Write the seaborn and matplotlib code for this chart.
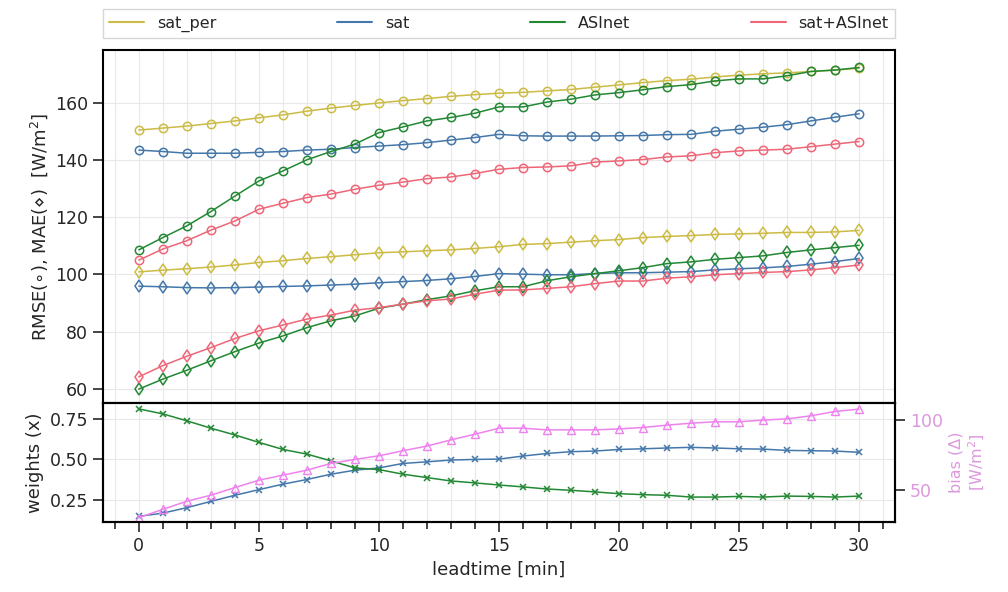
import numpy as np
import pandas as pd
import matplotlib
matplotlib.use("Agg")
import matplotlib.pyplot as plt
import seaborn as sns
from matplotlib.ticker import MultipleLocator

leadtime = list(range(31))
models = ["sat_per", "sat", "ASInet", "sat+ASInet"]
colors = {"sat_per": "#CCBB44", "sat": "#4477AA", "ASInet": "#228833", "sat+ASInet": "#EE6677"}

rmse = {
    "sat_per": [150.5, 151.2, 151.9, 152.8, 153.7, 154.8, 155.8, 157.1, 158.2, 159.1, 160.0,
                160.8, 161.5, 162.3, 162.9, 163.4, 163.7, 164.2, 164.7, 165.5, 166.3, 167.1,
                167.8, 168.3, 169.1, 169.7, 170.2, 170.5, 171.0, 171.5, 172.1],
    "sat": [143.5, 143.0, 142.4, 142.4, 142.4, 142.7, 143.0, 143.5, 143.8, 144.4, 144.9,
            145.4, 146.1, 147.0, 147.9, 149.0, 148.5, 148.4, 148.4, 148.4, 148.5, 148.6,
            148.9, 149.0, 150.1, 150.8, 151.5, 152.4, 153.7, 155.0, 156.2],
    "ASInet": [108.6, 112.9, 117.0, 122.0, 127.4, 132.7, 136.2, 140.1, 143.0, 145.6, 149.6,
               151.6, 153.7, 154.9, 156.4, 158.6, 158.6, 160.3, 161.3, 162.8, 163.6, 164.6,
               165.7, 166.4, 167.7, 168.4, 168.4, 169.5, 171.0, 171.5, 172.4],
    "sat+ASInet": [105.0, 108.9, 111.8, 115.5, 118.7, 122.8, 124.9, 126.9, 128.1, 129.8, 131.2,
                   132.3, 133.5, 134.1, 135.3, 136.8, 137.4, 137.6, 138.0, 139.3, 139.7, 140.2,
                   141.1, 141.5, 142.6, 143.2, 143.5, 143.8, 144.7, 145.6, 146.5],
}
mae = {
    "sat_per": [100.9, 101.5, 102.0, 102.6, 103.3, 104.2, 104.8, 105.6, 106.2, 106.9, 107.6,
                107.9, 108.3, 108.6, 109.1, 109.7, 110.5, 110.8, 111.3, 111.8, 112.2, 112.9,
                113.3, 113.6, 114.0, 114.2, 114.4, 114.7, 114.7, 114.9, 115.4],
    "sat": [95.9, 95.7, 95.4, 95.3, 95.4, 95.6, 95.8, 96.0, 96.3, 96.6, 97.1,
            97.5, 97.9, 98.5, 99.3, 100.3, 100.1, 99.9, 99.9, 100.3, 100.6, 100.6,
            100.8, 101.0, 101.6, 102.0, 102.3, 102.8, 103.6, 104.5, 105.6],
    "ASInet": [59.9, 63.4, 66.5, 69.8, 73.0, 76.0, 78.5, 81.4, 83.8, 85.5, 88.2,
               89.6, 91.2, 92.5, 94.3, 95.7, 95.7, 97.8, 99.2, 100.3, 101.3, 102.4,
               103.8, 104.4, 105.3, 105.9, 106.5, 107.7, 108.6, 109.4, 110.2],
    "sat+ASInet": [64.2, 68.1, 71.4, 74.4, 77.6, 80.3, 82.3, 84.4, 85.8, 87.5, 88.4,
                   89.6, 90.8, 91.4, 93.1, 94.5, 94.6, 95.1, 95.7, 96.8, 97.7, 97.7,
                   98.7, 99.2, 99.9, 100.3, 100.7, 101.0, 101.6, 102.4, 103.3],
}
w_sat = [0.146, 0.166, 0.200, 0.239, 0.277, 0.312, 0.346, 0.375, 0.408, 0.433, 0.447,
         0.475, 0.485, 0.496, 0.500, 0.502, 0.521, 0.537, 0.548, 0.552, 0.562, 0.566,
         0.571, 0.575, 0.571, 0.566, 0.564, 0.556, 0.554, 0.552, 0.544]
w_asinet = [0.814, 0.783, 0.740, 0.694, 0.652, 0.606, 0.562, 0.533, 0.491, 0.447, 0.437,
            0.408, 0.387, 0.366, 0.354, 0.341, 0.329, 0.316, 0.308, 0.298, 0.287, 0.281,
            0.277, 0.266, 0.266, 0.270, 0.266, 0.272, 0.270, 0.266, 0.272]
bias = [29.8, 35.8, 41.6, 45.9, 51.4, 56.7, 60.3, 63.9, 68.7, 71.6, 74.2,
        77.8, 81.2, 85.6, 89.7, 94.0, 94.0, 92.8, 92.8, 92.8, 93.5, 94.5,
        96.2, 97.6, 98.6, 98.6, 99.8, 100.7, 102.9, 106.0, 107.7]

sns.set_style("white")
plt.rcParams["font.family"] = ["DejaVu Sans"]
plt.rcParams["font.size"] = 12.5

TICK_FS = 12.5
LABEL_FS = 13
TEXT_COL = "#262626"

fig = plt.figure(figsize=(10.08, 5.92), dpi=100)
gs = fig.add_gridspec(2, 1, height_ratios=[353, 119], hspace=0,
                      left=0.102, right=0.888, top=0.9155, bottom=0.118)
ax = fig.add_subplot(gs[0])
axb = fig.add_subplot(gs[1], sharex=ax)

lw = 1.1
for m in models:
    c = colors[m]
    df = pd.DataFrame({"leadtime": leadtime, "v": rmse[m]})
    sns.lineplot(data=df, x="leadtime", y="v", ax=ax, color=c, lw=lw, marker="o",
                 markersize=6, markerfacecolor="none", markeredgecolor=c,
                 markeredgewidth=1.1, label=m)
    df = pd.DataFrame({"leadtime": leadtime, "v": mae[m]})
    sns.lineplot(data=df, x="leadtime", y="v", ax=ax, color=c, lw=lw, marker="d",
                 markersize=6, markerfacecolor="none", markeredgecolor=c,
                 markeredgewidth=1.1, label="_nolegend_")

ax.set_ylim(55, 178.5)
ax.set_xlim(-1.5, 31.5)
ax.set_ylabel("RMSE(∘), MAE(⋄)  [W/m$^2$]", fontsize=LABEL_FS, color=TEXT_COL)
ax.set_xlabel("")
ax.yaxis.set_major_locator(MultipleLocator(20))
ax.xaxis.set_major_locator(MultipleLocator(5))
ax.xaxis.set_minor_locator(MultipleLocator(1))
ax.grid(True, which="both", axis="x", color="#e8e8e8", lw=0.8)
ax.grid(True, which="major", axis="y", color="#e8e8e8", lw=0.8)
ax.tick_params(axis="x", which="both", bottom=False, labelbottom=False)
ax.tick_params(axis="y", direction="out", length=7, width=1.2, left=True,
               labelsize=TICK_FS, labelcolor=TEXT_COL)
ax.get_legend().remove()

dfw = pd.DataFrame({"leadtime": leadtime, "sat": w_sat, "ASInet": w_asinet})
sns.lineplot(data=dfw, x="leadtime", y="sat", ax=axb, color=colors["sat"], lw=lw,
             marker="x", markersize=5, markeredgewidth=1.1, markeredgecolor=colors["sat"])
sns.lineplot(data=dfw, x="leadtime", y="ASInet", ax=axb, color=colors["ASInet"], lw=lw,
             marker="x", markersize=5, markeredgewidth=1.1, markeredgecolor=colors["ASInet"])
axb.set_ylim(0.11, 0.85)
axb.yaxis.set_major_locator(MultipleLocator(0.25))
axb.set_ylabel("weights (x)", fontsize=LABEL_FS, color=TEXT_COL)
axb.set_xlabel("leadtime [min]", fontsize=LABEL_FS, color=TEXT_COL)
axb.grid(True, which="both", axis="x", color="#e8e8e8", lw=0.8)
axb.grid(True, which="major", axis="y", color="#e8e8e8", lw=0.8)
axb.tick_params(axis="both", which="major", direction="out", length=7, width=1.2,
                bottom=True, left=True, labelsize=TICK_FS, labelcolor=TEXT_COL)
axb.tick_params(axis="x", which="minor", direction="out", length=5, width=1.2, bottom=True)
axb.set_xlim(-1.5, 31.5)

axr = axb.twinx()
bias_col = "#EE82EE"
dfb = pd.DataFrame({"leadtime": leadtime, "bias": bias})
sns.lineplot(data=dfb, x="leadtime", y="bias", ax=axr, color=bias_col, lw=lw,
             marker="^", markersize=6, markerfacecolor="none", markeredgecolor=bias_col,
             markeredgewidth=1.0)
axr.set_ylim(26.6, 112)
axr.yaxis.set_major_locator(MultipleLocator(50))
axr.set_ylabel("bias (Δ)\n[W/m$^2$]", color="#dd99dd", fontsize=11.5)
axr.tick_params(axis="y", direction="out", length=7, width=1.2, right=True,
                labelcolor="#dd99dd", labelsize=TICK_FS)
axr.grid(False)

for a in (ax, axb, axr):
    for s in a.spines.values():
        s.set_color("black")
        s.set_linewidth(1.5)

handles = [plt.Line2D([], [], color=colors[m], lw=1.5) for m in models]
fig.legend(handles, models, loc="lower left", ncol=4, mode="expand",
           bbox_to_anchor=(0.102, 0.935, 0.786, 0.058), frameon=True,
           fancybox=False, edgecolor="#cccccc", fontsize=11.5, borderaxespad=0,
           handlelength=2.2, labelcolor=TEXT_COL)

fig.savefig("out.png", dpi=100)
